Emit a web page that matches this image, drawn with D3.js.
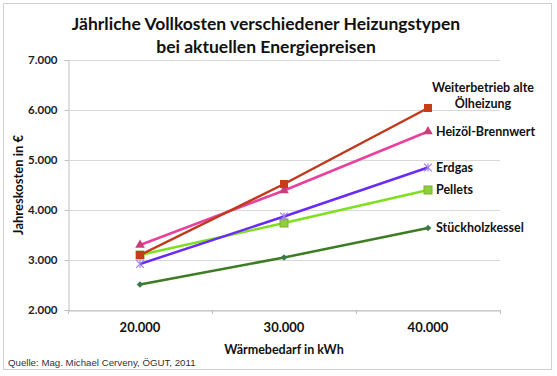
<!DOCTYPE html>
<html>
<head>
<meta charset="utf-8">
<script src="https://cdn.jsdelivr.net/npm/d3@7"></script>
<style>
  body { margin: 0; background: #fff; }
  text { font-family: Lato, "Open Sans", sans-serif; }
</style>
</head>
<body>
<div id="container"></div>
<script>
const categories = ["20.000", "30.000", "40.000"];
const seriesNames = ["Weiterbetrieb alte Ölheizung", "Heizöl-Brennwert", "Erdgas", "Pellets", "Stückholzkessel"];
const weiterbetrieb = [3100, 4520, 6040];
const heizoel = [3300, 4390, 5570];
const erdgas = [2920, 3870, 4850];
const pellets = [3100, 3740, 4400];
const stueckholz = [2510, 3050, 3640];
const yTicks = [2000, 3000, 4000, 5000, 6000, 7000];

const width = 557, height = 376;
const margin = { left: 68, right: 57, top: 60, bottom: 66 };

const svg = d3.create("svg")
    .attr("width", width)
    .attr("height", height)
    .attr("viewBox", [0, 0, width, height]);

// outer frame
svg.append("rect")
    .attr("x", 3.5).attr("y", 3.5)
    .attr("width", 548).attr("height", 366)
    .attr("fill", "#fff")
    .attr("stroke", "#d0d0d0");

const x = d3.scaleBand()
    .domain(categories)
    .range([margin.left, width - margin.right]);

const y = d3.scaleLinear()
    .domain([2000, 7000])
    .range([height - margin.bottom, margin.top]);

// gridlines
svg.append("g")
    .selectAll("line")
    .data(yTicks)
    .join("line")
    .attr("x1", margin.left).attr("x2", width - margin.right)
    .attr("y1", d => y(d) + 0.5).attr("y2", d => y(d) + 0.5)
    .attr("stroke", "#d9d9d9");

// y axis
const yAxis = svg.append("g")
    .attr("transform", `translate(${margin.left + 0.5},0)`)
    .call(d3.axisLeft(y).tickValues(yTicks).tickSize(4).tickPadding(7)
        .tickFormat(d => d3.format(",")(d).replace(",", ".")));
yAxis.select(".domain").attr("stroke", "#bfbfbf");
yAxis.selectAll(".tick line").attr("stroke", "#bfbfbf");
yAxis.selectAll("text")
    .attr("font-size", 11.5).attr("font-weight", "bold").attr("fill", "#222")
    .style("font-family", "Lato, sans-serif");

// x axis
const xAxis = svg.append("g")
    .attr("transform", `translate(0,${y(2000) + 0.5})`)
    .call(d3.axisBottom(x).tickSize(0).tickPadding(12));
xAxis.select(".domain").attr("stroke", "#bfbfbf");
xAxis.selectAll("text")
    .attr("font-size", 13).attr("font-weight", "bold").attr("fill", "#111")
    .style("font-family", "Lato, sans-serif");
svg.append("g")
    .selectAll("line")
    .data([0, 1, 2, 3])
    .join("line")
    .attr("x1", i => margin.left + i * x.step() + 0.5)
    .attr("x2", i => margin.left + i * x.step() + 0.5)
    .attr("y1", y(2000)).attr("y2", y(2000) + 4)
    .attr("stroke", "#bfbfbf");

// series
const series = [
    { name: seriesNames[0], values: weiterbetrieb, line: "#c0391b", marker: "#c63d17", shape: "square" },
    { name: seriesNames[1], values: heizoel, line: "#e8409c", marker: "#c8407a", shape: "triangle" },
    { name: seriesNames[2], values: erdgas, line: "#6a2cf5", marker: "#a080f0", shape: "star" },
    { name: seriesNames[3], values: pellets, line: "#7fe01e", marker: "#8ccf3a", shape: "square" },
    { name: seriesNames[4], values: stueckholz, line: "#3c7d22", marker: "#3a7a4a", shape: "diamond" }
];

const line = d3.line()
    .x((d, i) => x(categories[i]) + x.bandwidth() / 2)
    .y(d => y(d));

// draw from back to front like the original
[3, 4, 2, 1, 0].forEach(k => {
    const s = series[k];
    const g = svg.append("g");
    g.append("path")
        .datum(s.values)
        .attr("fill", "none")
        .attr("stroke", s.line)
        .attr("stroke-width", 2.5)
        .attr("d", line);
    s.values.forEach((v, i) => {
        const cx = x(categories[i]) + x.bandwidth() / 2;
        const cy = y(v);
        if (s.shape === "square") {
            g.append("rect")
                .attr("x", cx - 4).attr("y", cy - 4)
                .attr("width", 8).attr("height", 8)
                .attr("fill", s.marker)
                .attr("stroke", k === 3 ? "#7fb030" : "none");
        } else if (s.shape === "triangle") {
            g.append("path")
                .attr("transform", `translate(${cx},${cy})`)
                .attr("d", d3.symbol(d3.symbolTriangle, 40)())
                .attr("fill", s.marker);
        } else if (s.shape === "diamond") {
            g.append("path")
                .attr("transform", `translate(${cx},${cy}) rotate(45)`)
                .attr("d", d3.symbol(d3.symbolSquare, 22)())
                .attr("fill", s.marker);
        } else {
            g.append("path")
                .attr("transform", `translate(${cx},${cy})`)
                .attr("d", d3.symbol(d3.symbolTimes, 40)())
                .attr("stroke", s.marker)
                .attr("stroke-width", 1.2)
                .attr("fill", "none");
            g.append("line")
                .attr("x1", cx).attr("x2", cx)
                .attr("y1", cy - 4).attr("y2", cy + 4)
                .attr("stroke", s.marker).attr("stroke-width", 1.2);
        }
    });
});

// series labels
const lab = svg.append("g")
    .attr("font-size", 12.5).attr("font-weight", "bold").attr("fill", "#111");
lab.append("text").attr("x", 483).attr("y", 92).attr("text-anchor", "middle").text("Weiterbetrieb alte");
lab.append("text").attr("x", 483).attr("y", 108).attr("text-anchor", "middle").text("Ölheizung");
[1, 2, 3, 4].forEach(k => {
    lab.append("text")
        .attr("x", 436)
        .attr("y", y(series[k].values[2]) + 4)
        .text(series[k].name);
});

// title
const title = svg.append("g")
    .attr("font-size", 17.5).attr("font-weight", "bold").attr("fill", "#111")
    .attr("text-anchor", "middle");
title.append("text").attr("x", 266).attr("y", 30).text("Jährliche Vollkosten verschiedener Heizungstypen");
title.append("text").attr("x", 266).attr("y", 53).text("bei aktuellen Energiepreisen");

// axis titles
svg.append("text")
    .attr("transform", `translate(23,${(y(2000) + y(7000)) / 2}) rotate(-90)`)
    .attr("text-anchor", "middle")
    .attr("font-size", 13).attr("font-weight", "bold").attr("fill", "#111")
    .text("Jahreskosten in €");
svg.append("text")
    .attr("x", 284).attr("y", 354)
    .attr("text-anchor", "middle")
    .attr("font-size", 12.5).attr("font-weight", "bold").attr("fill", "#111")
    .text("Wärmebedarf in kWh");

// source
svg.append("text")
    .attr("x", 8).attr("y", 366)
    .attr("font-size", 9.7)
    .style("font-family", "Arial, 'Liberation Sans', sans-serif")
    .attr("fill", "#333")
    .text("Quelle: Mag. Michael Cerveny, ÖGUT, 2011");

document.getElementById("container").append(svg.node());
</script>
</body>
</html>
